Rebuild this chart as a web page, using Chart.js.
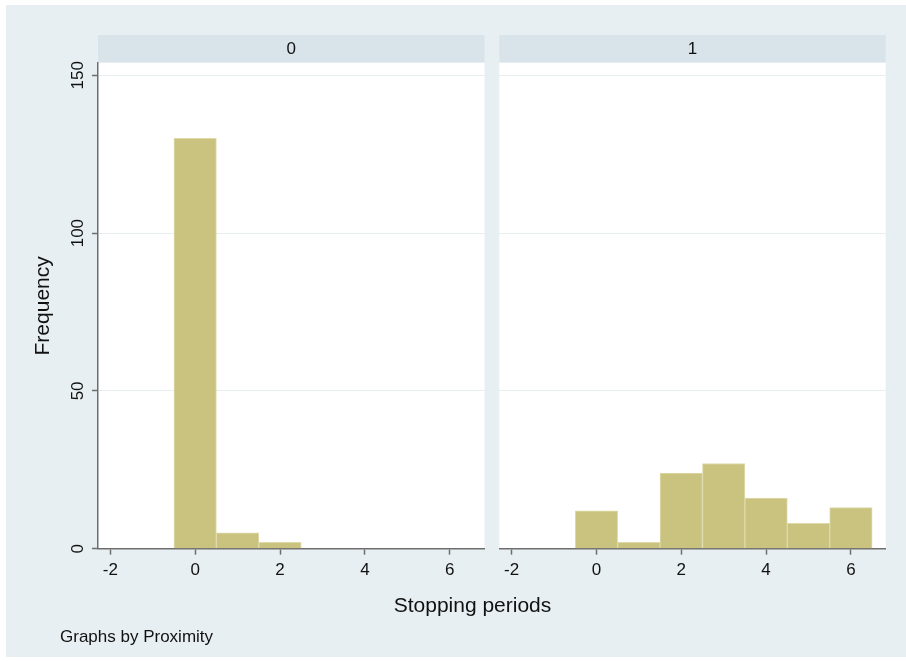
<!DOCTYPE html>
<html>
<head>
<meta charset="utf-8">
<title>Stopping periods by Proximity</title>
<script src="https://cdn.jsdelivr.net/npm/chart.js@4"></script>
<style>
  html, body { margin: 0; padding: 0; background: #ffffff; }
  body { width: 906px; height: 661px; position: relative; overflow: hidden;
         font-family: "Liberation Sans", Arial, Helvetica, sans-serif; }
  #frame { position: absolute; left: 6px; top: 5px; width: 900px; height: 652px; background: #e8eff2; }
  canvas { position: absolute; left: 0; top: 0; }
  .note { position: absolute; color: #111111; white-space: nowrap; line-height: normal; }
</style>
</head>
<body>
<div id="frame"></div>
<canvas id="panel0" width="906" height="661"></canvas>
<canvas id="panel1" width="906" height="661"></canvas>
<div class="note" id="xtitle" style="left:0; width:945px; text-align:center; top:593px; font-size:21px;">Stopping periods</div>
<div class="note" id="byline" style="left:60px; top:627px; font-size:17px;">Graphs by Proximity</div>

<script>
// Histogram bins (number of stopping periods) and counts for each Proximity group
const stoppingPeriods = [0, 1, 2, 3, 4, 5, 6];
const freqProximity0 = [130, 5, 2, 0, 0, 0, 0];
const freqProximity1 = [12, 2, 24, 27, 16, 8, 13];
const proximityLabels = ['0', '1'];
const xTickValues = [-2, 0, 2, 4, 6];
const yTickValues = [0, 50, 100, 150];

const FONT = '"Liberation Sans", Arial, Helvetica, sans-serif';
const INK = '#111111';
const AXIS = '#6e6e6e';
const BAR = '#c9c37f';
const BAR_EDGE = '#dedaab';

// Paints the white plot region and the grey strip holding the group label
const panelFrame = {
  id: 'panelFrame',
  beforeDraw(chart, args, opts) {
    const { ctx, chartArea: a } = chart;
    ctx.save();
    ctx.fillStyle = '#ffffff';
    ctx.fillRect(a.left, a.top, a.right - a.left, a.bottom - a.top);
    ctx.fillStyle = '#d9e4ea';
    ctx.fillRect(a.left, a.top - 28, a.right - a.left, 27);
    ctx.fillStyle = INK;
    ctx.font = '17px ' + FONT;
    ctx.textAlign = 'center';
    ctx.textBaseline = 'middle';
    ctx.fillText(opts.label, (a.left + a.right) / 2, a.top - 14);
    ctx.restore();
  }
};

function makePanel(canvasId, freqs, label, showY, padLeft, padRight) {
  return new Chart(document.getElementById(canvasId), {
    type: 'bar',
    data: {
      datasets: [{
        data: stoppingPeriods.map((x, i) => ({ x: x, y: freqs[i] })),
        backgroundColor: BAR,
        borderColor: BAR_EDGE,
        borderWidth: 1,
        barPercentage: 1,
        categoryPercentage: 1
      }]
    },
    options: {
      responsive: false,
      animation: false,
      layout: { padding: { left: padLeft, right: padRight, top: 63, bottom: 0 } },
      plugins: {
        legend: { display: false },
        tooltip: { enabled: false },
        panelFrame: { label: label }
      },
      scales: {
        x: {
          type: 'linear',
          offset: false,
          min: -2.29,
          max: 6.82,
          afterBuildTicks: s => { s.ticks = xTickValues.map(v => ({ value: v })); },
          afterFit: s => { s.height = 661 - 548.7; },
          ticks: {
            font: { size: 17, family: FONT },
            color: INK,
            padding: 5,
            maxRotation: 0,
            minRotation: 0
          },
          grid: {
            offset: false,
            drawOnChartArea: false,
            drawTicks: true,
            tickLength: 6,
            tickColor: AXIS,
            tickWidth: 1.5
          },
          border: { display: true, color: AXIS, width: 1.5 }
        },
        y: {
          min: 0,
          max: 153.9,
          afterBuildTicks: s => { s.ticks = yTickValues.map(v => ({ value: v })); },
          afterFit: s => { s.width = showY ? 80 : 0; },
          ticks: {
            display: showY,
            font: { size: 17, family: FONT },
            color: INK,
            minRotation: 90,
            maxRotation: 90,
            crossAlign: 'center',
            padding: 0
          },
          grid: {
            color: '#e6eef0',
            lineWidth: 1,
            drawTicks: showY,
            tickLength: 6,
            tickColor: AXIS,
            tickWidth: 1.5
          },
          border: { display: showY, color: AXIS, width: 1.5 },
          title: {
            display: showY,
            text: 'Frequency',
            color: INK,
            font: { size: 21, family: FONT },
            padding: { top: 12.4, bottom: 0 }
          }
        }
      }
    },
    plugins: [panelFrame]
  });
}

makePanel('panel0', freqProximity0, proximityLabels[0], true, 18, 906 - 484.5);
makePanel('panel1', freqProximity1, proximityLabels[1], false, 499.3, 906 - 885.7);
</script>
</body>
</html>
